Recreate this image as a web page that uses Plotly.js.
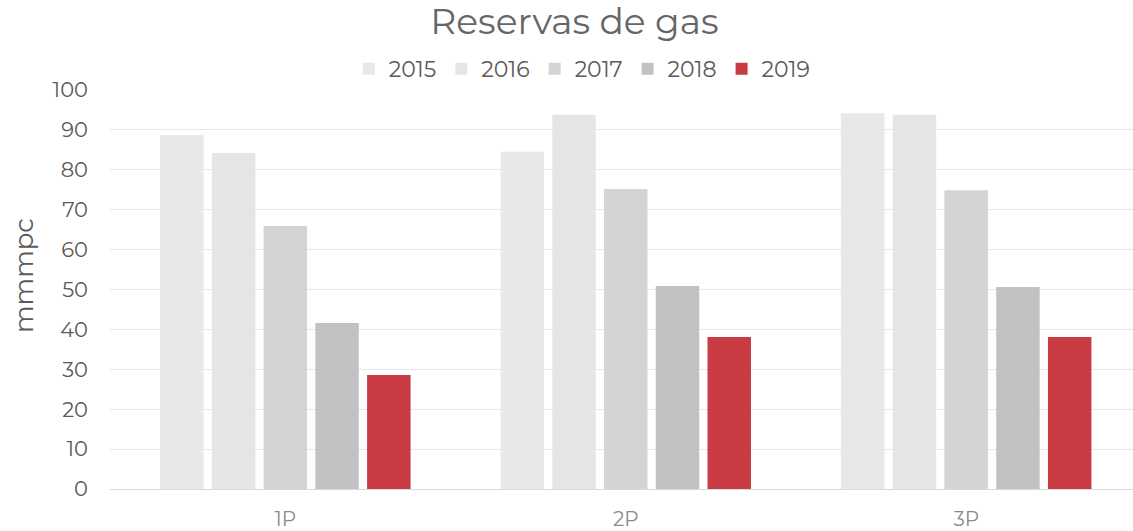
<!DOCTYPE html>
<html>
<head>
<meta charset="utf-8">
<script src="https://cdn.plot.ly/plotly-3.0.1.min.js"></script>
<style>html,body{margin:0;padding:0;background:#fff;}#chart{width:1133px;height:531px;}</style>
</head>
<body>
<div id="chart"></div>
<script>
const categories = ["1P", "2P", "3P"];
const years = ["2015", "2016", "2017", "2018", "2019"];
const v2015 = [88.7, 84.5, 94.2];
const v2016 = [84.2, 93.8, 93.8];
const v2017 = [65.9, 75.2, 74.9];
const v2018 = [41.6, 50.9, 50.6];
const v2019 = [28.6, 38.1, 38.1];
const seriesValues = [v2015, v2016, v2017, v2018, v2019];
const colors = ["#e8e8e8", "#e4e5e7", "#d4d4d6", "#c2c2c5", "#c83b42"];

const font = "Montserrat, 'Open Sans', Lato, sans-serif";
const traces = years.map((y, i) => ({
  type: "bar", name: y, x: categories, y: seriesValues[i],
  marker: {color: colors[i], line: {width: 0}}, hoverinfo: "skip"
}));

const layout = {
  width: 1133, height: 531,
  margin: {l: 110, r: 0, t: 90, b: 42},
  paper_bgcolor: "#ffffff", plot_bgcolor: "#ffffff",
  font: {family: font, color: "#5a5a5a"},
  barmode: "group",
  bargap: 0.24,
  bargroupgap: 0.16,
  title: {text: "Reservas de gas", font: {size: 36, color: "#666666", family: font},
          x: 0.507, xref: "container", xanchor: "center", y: 0.96, yref: "container", yanchor: "middle"},
  showlegend: true,
  legend: {orientation: "h", x: 0.514, xref: "container", xanchor: "center",
           y: 0.87, yref: "container", yanchor: "middle",
           font: {size: 22, color: "#5a5a5a", family: font}, itemwidth: 30, traceorder: "normal"},
  xaxis: {type: "category", range: [-0.515, 2.49], showgrid: false, zeroline: false, showline: false, ticks: "",
          ticklabelstandoff: 16,
          tickfont: {size: 20, color: "#8a8a8a", family: font}},
  yaxis: {range: [0, 100], dtick: 10, tick0: 0, showgrid: true, gridcolor: "#e6e6e6", gridwidth: 1,
          zeroline: true, zerolinecolor: "#d9d9d9", showline: false, ticks: "",
          ticklabelstandoff: 21,
          tickfont: {size: 21, color: "#5a5a5a", family: font}},
  annotations: [{text: "mmmpc", xref: "paper", yref: "paper", x: -0.084, y: 0.534,
                 xanchor: "center", yanchor: "middle", textangle: -90, showarrow: false,
                 font: {size: 26, color: "#5a5a5a", family: font}}]
};

Plotly.newPlot("chart", traces, layout, {displayModeBar: false, staticPlot: true});
</script>
</body>
</html>
